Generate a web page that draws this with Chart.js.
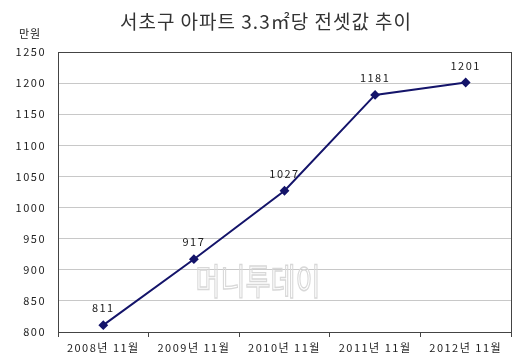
<!DOCTYPE html>
<html>
<head>
<meta charset="utf-8">
<script src="https://cdn.jsdelivr.net/npm/chart.js@4"></script>
<style>
  html, body { margin: 0; padding: 0; background: #fff; }
  #wrap { width: 520px; height: 359px; }
</style>
</head>
<body>
<div id="wrap"><canvas id="myChart" width="520" height="359"></canvas></div>
<script>
const categories = ["2008년 11월", "2009년 11월", "2010년 11월", "2011년 11월", "2012년 11월"];
const values = [811, 917, 1027, 1181, 1201];
const yMin = 800;
const yMax = 1250;
const yStep = 50;

const FONT = "'Noto Sans CJK KR', 'DejaVu Sans', sans-serif";

// title, unit, point labels, watermark, plot border
const decorPlugin = {
  id: "decor",
  beforeDraw(chart) {
    chart.ctx.letterSpacing = "1.5px";
  },
  beforeDatasetsDraw(chart) {
    const c = chart.ctx;
    c.save();
    c.letterSpacing = "0px";
    c.translate(258, 281);
    c.scale(0.85, 1.15);
    c.font = "32px " + FONT;
    c.textAlign = "center";
    c.textBaseline = "middle";
    c.strokeStyle = "#d8d8d8";
    c.lineWidth = 1.2;
    c.strokeText("머니투데이", 0, 0);
    c.restore();
  },
  afterDraw(chart) {
    const c = chart.ctx;
    const a = chart.chartArea;
    c.save();
    c.letterSpacing = "0px";
    c.strokeStyle = "#444";
    c.lineWidth = 1;
    c.strokeRect(Math.round(a.left) + 0.5, Math.round(a.top) + 0.5,
      Math.round(a.right - a.left), Math.round(a.bottom - a.top));

    c.fillStyle = "#333";
    c.textAlign = "center";
    c.textBaseline = "middle";
    c.letterSpacing = "1px";
    c.font = "19px " + FONT;
    c.fillText("서초구 아파트 3.3㎡당 전셋값 추이", 266, 22);

    c.font = "11px " + FONT;
    c.fillStyle = "#222";
    c.fillText("만원", 30, 34);

    const meta = chart.getDatasetMeta(0);
    c.letterSpacing = "1.5px";
    meta.data.forEach((pt, i) => {
      c.fillText(String(values[i]), pt.x, pt.y - 17);
    });
    c.restore();
  }
};

new Chart(document.getElementById("myChart"), {
  type: "line",
  data: {
    labels: categories,
    datasets: [{
      data: values,
      borderColor: "#14146a",
      backgroundColor: "#14146a",
      borderWidth: 2,
      pointStyle: "rectRot",
      pointRadius: 3.5,
      pointHoverRadius: 3.5,
      tension: 0
    }]
  },
  options: {
    responsive: false,
    animation: false,
    devicePixelRatio: 1,
    layout: { padding: { top: 52, right: 9, left: 0, bottom: 0 } },
    plugins: {
      legend: { display: false },
      tooltip: { enabled: false }
    },
    scales: {
      x: {
        offset: true,
        grid: {
          offset: true,
          drawOnChartArea: false,
          drawTicks: true,
          tickLength: 5,
          color: "#444"
        },
        border: { display: false },
        ticks: {
          color: "#222",
          font: { family: FONT, size: 11 },
          padding: 4,
          maxRotation: 0
        },
        afterFit(scale) { scale.height = 27; }
      },
      y: {
        min: yMin,
        max: yMax,
        ticks: {
          stepSize: yStep,
          color: "#222",
          font: { family: FONT, size: 11 },
          padding: 12,
          callback: (v) => String(v)
        },
        grid: {
          drawTicks: false,
          color: "#c8c8c8"
        },
        border: { display: false },
        afterFit(scale) { scale.width = 58; }
      }
    }
  },
  plugins: [decorPlugin]
});
</script>
</body>
</html>
